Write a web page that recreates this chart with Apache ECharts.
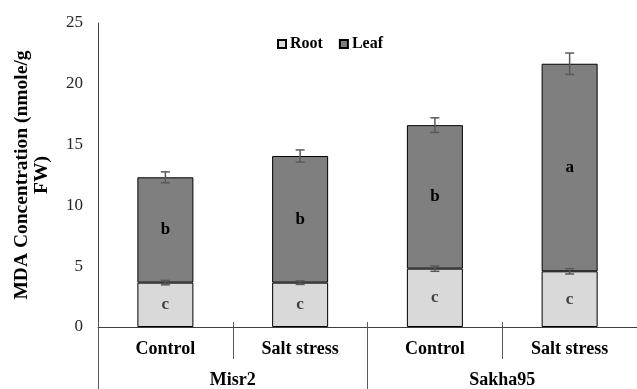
<!DOCTYPE html>
<html>
<head>
<meta charset="utf-8">
<script src="https://cdn.jsdelivr.net/npm/echarts@6/dist/echarts.min.js"></script>
<style>
html,body{margin:0;padding:0;background:#fff;}
#chart{width:637px;height:389px;}
</style>
</head>
<body>
<div id="chart"></div>
<script>
var categories = ['Control', 'Salt stress', 'Control', 'Salt stress'];
var groups = ['Misr2', 'Sakha95'];
var rootValues = [3.65, 3.65, 4.8, 4.58];
var leafValues = [8.66, 10.41, 11.8, 17.07];
var rootErrors = [0.18, 0.15, 0.22, 0.22];
var leafErrors = [0.45, 0.5, 0.6, 0.88];
var rootLetters = ['c', 'c', 'c', 'c'];
var leafLetters = ['b', 'b', 'b', 'a'];
var yTicks = [0, 5, 10, 15, 20, 25];

var FONT = '"Liberation Serif", "Times New Roman", serif';

var errData = [];
for (var i = 0; i < categories.length; i++) {
  errData.push([i, rootValues[i], rootErrors[i]]);
  errData.push([i, rootValues[i] + leafValues[i], leafErrors[i]]);
}

var chart = echarts.init(document.getElementById('chart'));
chart.setOption({
  animation: false,
  backgroundColor: '#fff',
  grid: { left: 98, right: -12, top: 23, bottom: 62, containLabel: false },
  legend: {
    data: ['Root', 'Leaf'],
    top: 31,
    left: 272,
    icon: 'rect',
    itemWidth: 8,
    itemHeight: 8,
    itemGap: 16,
    textStyle: { fontFamily: FONT, fontWeight: 'bold', fontSize: 16, color: '#000', padding: [0, 0, 0, -1] }
  },
  graphic: [{
    type: 'text',
    x: 31.5,
    y: 175,
    rotation: Math.PI / 2,
    style: {
      text: 'MDA Concentration (nmole/g\nFW)',
      fontFamily: FONT,
      fontWeight: 'bold',
      fontSize: 19.5,
      lineHeight: 20,
      fill: '#000',
      align: 'center',
      verticalAlign: 'middle'
    }
  }],
  xAxis: [{
    type: 'category',
    data: categories,
    position: 'bottom',
    axisLine: { onZero: false, lineStyle: { color: '#404040', width: 1 } },
    axisTick: { show: true, interval: 0, length: 32, lineStyle: { color: '#595959' } },
    axisLabel: { interval: 0, margin: 13, fontFamily: FONT, fontWeight: 'bold', fontSize: 18, color: '#000' }
  }, {
    type: 'category',
    data: groups,
    position: 'bottom',
    axisLine: { show: false, onZero: false },
    axisTick: { show: true, interval: 0, length: 62, lineStyle: { color: '#595959' } },
    axisLabel: { interval: 0, margin: 44, fontFamily: FONT, fontWeight: 'bold', fontSize: 18, color: '#000' }
  }, {
    type: 'category',
    data: categories,
    position: 'bottom',
    axisLine: { show: false, onZero: false },
    axisTick: { show: true, inside: true, interval: 0, length: 5, lineStyle: { color: '#595959' } },
    axisLabel: { show: false }
  }],
  yAxis: {
    type: 'value',
    min: 0,
    max: 25,
    interval: 5,
    axisLine: { show: true, lineStyle: { color: '#404040', width: 1 } },
    axisTick: { show: false },
    splitLine: { show: false },
    axisLabel: {
      margin: 15,
      fontFamily: FONT,
      fontSize: 17,
      color: '#262626',
      formatter: function (v) { return yTicks.indexOf(v) >= 0 ? String(v) : ''; }
    }
  },
  series: [{
    name: 'Root',
    type: 'bar',
    stack: 'mda',
    barWidth: 56,
    data: rootValues,
    itemStyle: { color: '#d9d9d9', borderColor: '#000', borderWidth: 1 },
    label: {
      show: true,
      position: 'inside',
      fontFamily: FONT,
      fontWeight: 'bold',
      fontSize: 17,
      color: '#404040',
      formatter: function (p) { return rootLetters[p.dataIndex]; }
    }
  }, {
    name: 'Leaf',
    type: 'bar',
    stack: 'mda',
    barWidth: 56,
    data: leafValues,
    itemStyle: { color: '#7f7f7f', borderColor: '#000', borderWidth: 1 },
    label: {
      show: true,
      position: 'inside',
      fontFamily: FONT,
      fontWeight: 'bold',
      fontSize: 17,
      color: '#000',
      formatter: function (p) { return leafLetters[p.dataIndex]; }
    }
  }, {
    type: 'custom',
    name: 'err',
    data: errData,
    z: 10,
    silent: true,
    renderItem: function (params, api) {
      var x = api.value(0), c = api.value(1), e = api.value(2);
      var top = api.coord([x, c + e]);
      var bot = api.coord([x, c - e]);
      var cap = 4.5;
      var st = { stroke: '#595959', lineWidth: 1.5 };
      return {
        type: 'group',
        children: [
          { type: 'line', shape: { x1: top[0], y1: top[1], x2: bot[0], y2: bot[1] }, style: st },
          { type: 'line', shape: { x1: top[0] - cap, y1: top[1], x2: top[0] + cap, y2: top[1] }, style: st },
          { type: 'line', shape: { x1: bot[0] - cap, y1: bot[1], x2: bot[0] + cap, y2: bot[1] }, style: st }
        ]
      };
    }
  }]
});
</script>
</body>
</html>
